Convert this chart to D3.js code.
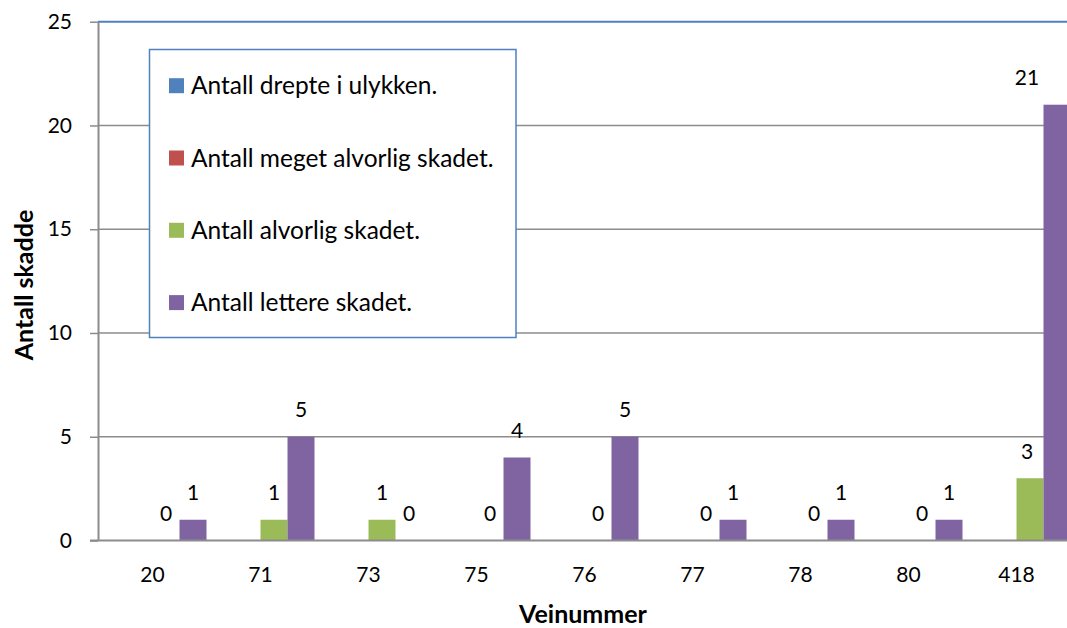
<!DOCTYPE html>
<html>
<head>
<meta charset="utf-8">
<script src="https://cdn.jsdelivr.net/npm/d3@7"></script>
<style>
  body { margin: 0; background: #fff; }
  text { font-family: Lato, "Open Sans", sans-serif; fill: #000; }
</style>
</head>
<body>
<div id="chart"></div>
<script>
// data
var roads = ["20", "71", "73", "75", "76", "77", "78", "80", "418"];
var drepte = [0, 0, 0, 0, 0, 0, 0, 0, 0];
var megetAlvorlig = [0, 0, 0, 0, 0, 0, 0, 0, 0];
var alvorlig = [0, 1, 1, 0, 0, 0, 0, 0, 3];
var lettere = [1, 5, 0, 4, 5, 1, 1, 1, 21];
var seriesNames = ["Antall drepte i ulykken.", "Antall meget alvorlig skadet.", "Antall alvorlig skadet.", "Antall lettere skadet."];
var colors = ["#4F81BD", "#C0504D", "#9BBB59", "#8064A2"];
var yTicks = [0, 5, 10, 15, 20, 25];

var width = 1067, height = 628;
var series = [drepte, megetAlvorlig, alvorlig, lettere];
var labelled = [false, false, true, true];

var svg = d3.select("#chart").append("svg").attr("width", width).attr("height", height);

var x = d3.scaleBand().domain(roads).range([98.5, 1070.5]).padding(0);
var xs = d3.scaleBand().domain(d3.range(series.length)).range([0, x.bandwidth()]).padding(0);
var y = d3.scaleLinear().domain([0, 25]).range([540.5, 21.7]);

// gridlines
svg.append("g").selectAll("line").data(yTicks.slice(1)).join("line")
    .attr("x1", 98).attr("x2", width)
    .attr("y1", function(d) { return y(d); }).attr("y2", function(d) { return y(d); })
    .attr("stroke", function(d) { return d == 25 ? "#4F81BD" : "#8c8c8c"; })
    .attr("stroke-width", function(d) { return d == 25 ? 2 : 1.5; });

// bars
series.forEach(function(vals, s) {
    svg.append("g").selectAll("rect").data(vals).join("rect")
        .attr("x", function(d, i) { return x(roads[i]) + xs(s); })
        .attr("width", xs.bandwidth())
        .attr("y", function(d) { return y(d); })
        .attr("height", function(d) { return y(0) - y(d); })
        .attr("fill", colors[s]);
});

// y axis
var yAxis = d3.axisLeft(y).tickValues(yTicks).tickSize(8).tickSizeOuter(0);
var gy = svg.append("g").attr("transform", "translate(98,0)").call(yAxis);
gy.select(".domain").attr("stroke", "#8c8c8c").attr("stroke-width", 2);
gy.selectAll(".tick line").attr("stroke", "#8c8c8c").attr("stroke-width", 1.5);
gy.selectAll(".tick text").attr("x", -26).attr("font-size", 21).attr("font-family", "Lato");

// x axis
var xAxis = d3.axisBottom(x).tickSize(0).tickSizeOuter(0);
var gx = svg.append("g").attr("transform", "translate(0," + y(0) + ")").call(xAxis);
gx.select(".domain").remove();
gx.append("line").attr("x1", 90).attr("x2", width).attr("stroke", "#8c8c8c").attr("stroke-width", 2);
gx.selectAll(".tick text").attr("y", 27).attr("font-size", 21).attr("font-family", "Lato");

// data labels
series.forEach(function(vals, s) {
    if (!labelled[s]) return;
    svg.append("g").selectAll("text").data(vals).join("text")
        .attr("x", function(d, i) { return Math.min(x(roads[i]) + xs(s) + xs.bandwidth() / 2, width - 40); })
        .attr("y", function(d) { return y(d) - 19.5; })
        .attr("text-anchor", "middle")
        .attr("font-size", 21)
        .text(function(d) { return d; });
});

// axis titles
svg.append("text").attr("transform", "translate(33,285) rotate(-90)")
    .attr("text-anchor", "middle").attr("font-weight", "bold").attr("font-size", 25)
    .text("Antall skadde");
svg.append("text").attr("x", 583).attr("y", 623)
    .attr("text-anchor", "middle").attr("font-weight", "bold").attr("font-size", 25)
    .text("Veinummer");

// legend
var legend = svg.append("g");
legend.append("rect").attr("x", 149.5).attr("y", 49.5).attr("width", 366.5).attr("height", 288)
    .attr("fill", "#fff").attr("stroke", "#4F81BD").attr("stroke-width", 1.5);
var item = legend.selectAll("g.item").data(seriesNames).join("g").attr("class", "item")
    .attr("transform", function(d, i) { return "translate(169," + (85.7 + i * 72.3) + ")"; });
item.append("rect").attr("x", 0).attr("y", -7.5).attr("width", 15).attr("height", 15)
    .attr("fill", function(d, i) { return colors[i]; });
item.append("text").attr("x", 22).attr("dy", "0.35em").attr("font-size", 24.5)
    .text(function(d) { return d; });
</script>
</body>
</html>
